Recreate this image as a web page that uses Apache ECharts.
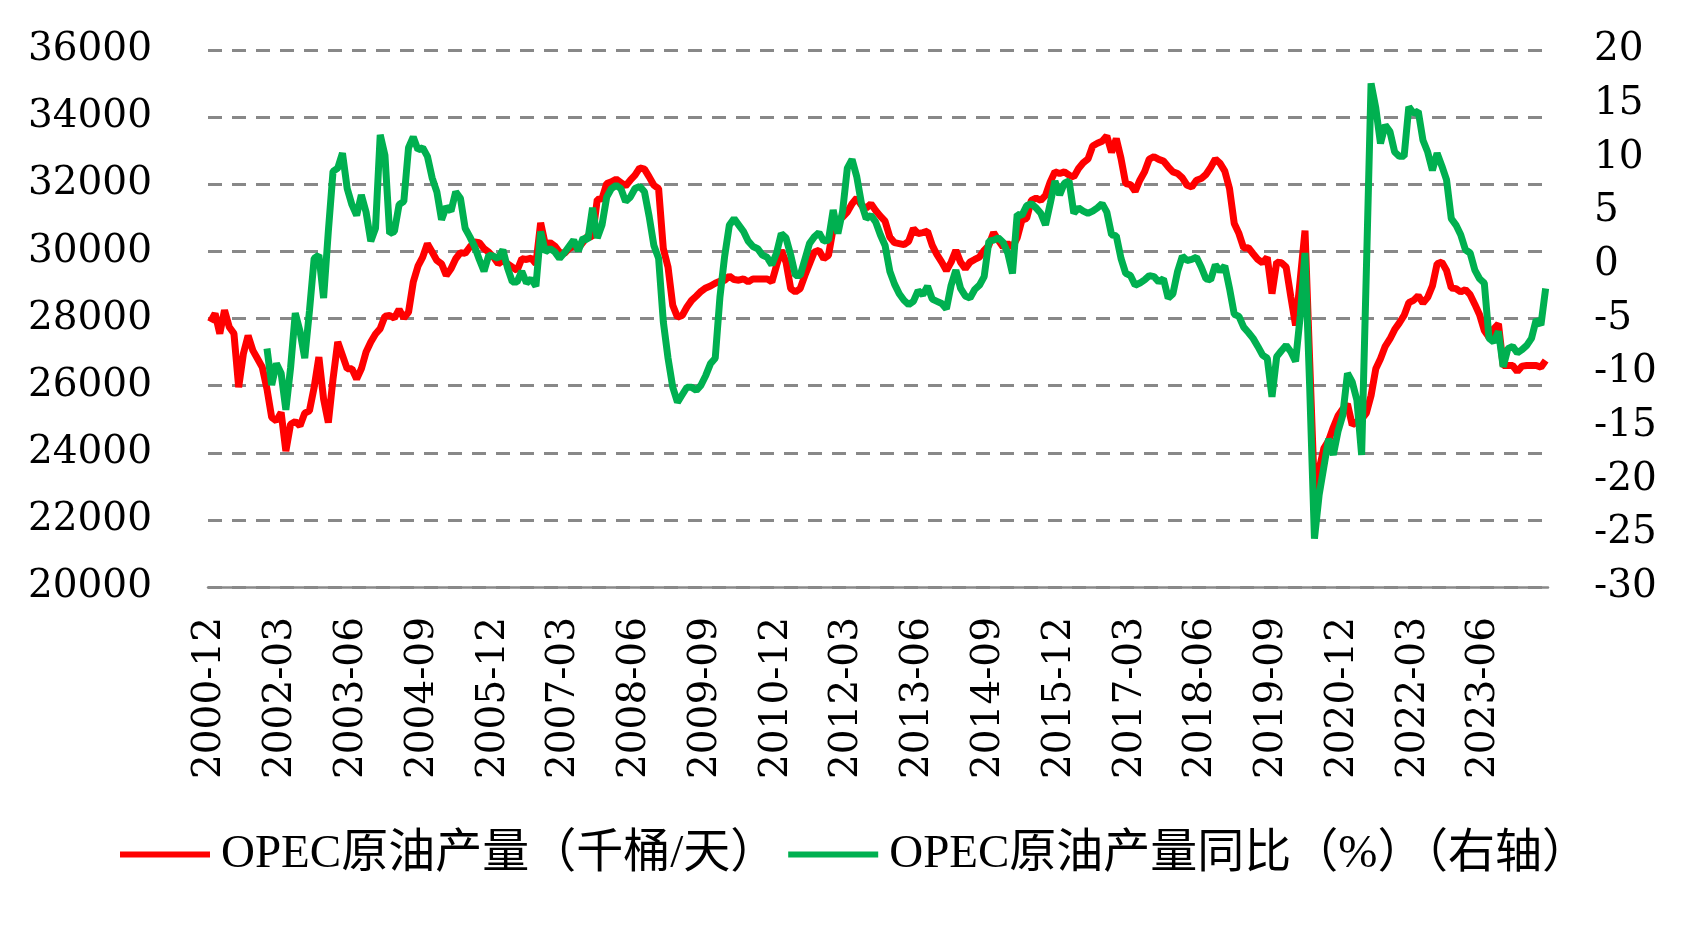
<!DOCTYPE html>
<html>
<head>
<meta charset="utf-8">
<script src="https://cdn.jsdelivr.net/npm/echarts@6/dist/echarts.min.js"></script>
<style>
html,body{margin:0;padding:0;background:#fff;}
#chart{width:1691px;height:925px;}
</style>
</head>
<body>
<div id="chart"></div>
<script>
// OPEC crude production (thousand barrels/day), monthly from 2000-12
const production = [
27900,28150,27550,28250,27750,27550,25950,26950,27490,27050,
26800,26550,25900,25050,24950,25200,24050,24850,24930,24800,
25180,25250,25950,26850,25600,24900,26200,27300,26900,26500,
26500,26200,26500,27000,27300,27540,27700,28070,28090,28010,
28270,28010,28190,29085,29560,29830,30230,29980,29730,29630,
29285,29480,29780,29960,29940,30130,30280,30260,30080,29980,
29830,29630,29730,29630,29530,29430,29780,29760,29800,29630,
30850,30200,30260,30160,29980,29930,30080,30160,30100,30280,
30460,30430,31550,31570,32020,32070,32150,32050,31950,32120,
32270,32490,32450,32220,31970,31870,30080,29530,28390,28040,
28090,28340,28540,28670,28810,28910,28970,29050,29110,29140,
29260,29160,29140,29180,29090,29180,29180,29180,29180,29090,
29580,30030,29680,28890,28790,28890,29280,29630,29980,30030,
29780,29880,30680,30930,31020,31170,31420,31590,31370,31290,
31420,31220,31050,30900,30430,30260,30230,30200,30300,30680,
30530,30560,30600,30180,29900,29680,29430,29680,30030,29680,
29480,29680,29760,29830,30030,30180,30560,30330,30130,30230,
30130,30400,30930,30980,31520,31590,31520,31670,32070,32370,
32320,32370,32270,32220,32470,32640,32750,33140,33220,33280,
33440,32950,33360,32770,32020,31990,31790,32120,32370,32750,
32820,32740,32690,32520,32370,32320,32190,31970,31920,32120,
32170,32290,32500,32750,32620,32390,31870,30830,30530,30100,
30110,29930,29760,29660,29820,28740,29680,29660,29530,28640,
27790,29180,30620,26700,22820,23510,24130,24360,24760,25100,
25300,25450,24830,24930,25000,25180,25700,26500,26800,27170,
27390,27670,27870,28090,28470,28540,28680,28460,28630,28970,
29630,29680,29430,28910,28890,28790,28860,28710,28420,28110,
27640,27440,27690,27840,26600,26600,26600,26420,26580,26600,
26600,26600,26550,26750
];

// Year-on-year change (%), right axis
const yoy = [
null,null,null,null,null,null,null,null,null,null,null,null,
-7.8,-11.2,-9.2,-10.1,-13.5,-9.6,-4.5,-6.2,
-8.7,-4.3,0.6,0.9,-3.1,3.1,8.7,9.0,10.4,7.1,
5.6,4.6,6.5,4.9,2.2,3.4,12.1,10.2,2.9,3.1,
5.6,5.9,10.9,11.9,10.7,10.9,10.1,8.1,6.8,4.2,
5.4,5.0,6.8,6.2,3.4,2.6,1.7,0.5,-0.6,0.9,
0.8,0.6,1.4,-0.3,-1.6,-1.6,-0.6,-1.7,-1.3,-2.0,
3.1,1.2,1.5,1.2,0.6,1.1,1.7,2.3,1.3,2.5,
2.3,5.3,2.5,3.7,6.3,7.1,7.4,7.1,5.9,6.3,
7.1,7.3,6.8,4.5,1.8,0.6,-5.3,-8.7,-11.4,-12.8,
-12.1,-11.4,-11.4,-11.7,-11.2,-10.3,-9.2,-8.7,-3.0,0.8,
3.7,4.3,3.7,3.1,2.2,1.7,1.5,0.9,0.7,0.0,
1.1,2.9,2.5,0.9,-1.0,-1.0,0.5,2.0,2.6,3.0,
2.2,2.3,5.1,2.9,5.0,9.0,9.8,8.2,5.7,4.3,
4.6,4.0,2.8,1.8,-0.6,-1.8,-2.7,-3.3,-3.7,-3.4,
-2.4,-2.8,-2.0,-3.2,-3.4,-3.6,-4.1,-1.9,-0.5,-2.2,
-2.9,-3.1,-2.3,-1.9,-1.1,2.2,2.3,2.5,2.1,1.1,
-0.8,4.7,4.6,5.5,5.7,5.3,4.8,3.7,5.7,7.8,
6.5,7.6,7.8,4.8,5.3,5.0,4.8,5.0,5.3,5.7,
4.9,2.8,2.7,0.6,-0.8,-1.0,-1.9,-1.7,-1.4,-1.0,
-1.1,-1.6,-1.3,-3.1,-2.7,-0.6,0.8,0.4,0.5,0.7,
-0.2,-1.3,-1.4,0.0,-0.6,-0.1,-2.2,-4.6,-4.8,-5.8,
-6.3,-6.85,-7.6,-8.4,-8.7,-12.3,-8.55,-8.0,-7.5,-8.1,
-9.0,-4.7,1.1,-11.5,-25.5,-21.4,-18.8,-16.2,-17.7,-15.5,
-14.0,-10.1,-10.9,-12.6,-17.7,-0.6,16.9,14.6,11.3,13.0,
12.4,10.5,10.1,10.1,14.7,14.1,14.3,11.6,10.5,8.8,
10.4,9.2,7.9,4.3,3.7,2.8,1.4,1.1,-0.5,-1.3,
-1.7,-6.85,-7.2,-6.2,-9.5,-7.8,-7.6,-8.2,-7.9,-7.5,
-6.85,-5.1,-5.6,-2.2
];

const seriesNames = ['OPEC原油产量（千桶/天）', 'OPEC原油产量同比（%）（右轴）'];
const leftTicks = {min: 20000, max: 36000, step: 2000};
const rightTicks = {min: -30, max: 20, step: 5};

// month categories starting 2000-12
const startYear = 2000, startMonth = 12;
const months = production.map((_, k) => {
  const t = startYear * 12 + (startMonth - 1) + k;
  const y = Math.floor(t / 12), m = t % 12 + 1;
  return y + '-' + (m < 10 ? '0' + m : '' + m);
});

const numFont = "'DejaVu Serif', 'Liberation Serif', serif";
const legendFont = "'Liberation Serif', 'Noto Sans CJK SC', serif";
const chart = echarts.init(document.getElementById('chart'), null, {renderer: 'canvas'});
chart.setOption({
  animation: false,
  backgroundColor: '#ffffff',
  grid: {left: 208, right: 143, top: 50, bottom: 338},
  legend: {
    left: 115, top: 826,
    icon: 'rect', itemWidth: 90, itemHeight: 6, itemGap: 11,
    textStyle: {fontSize: 47, fontFamily: legendFont, color: '#000', padding: [0, 0, 0, 6]},
    data: seriesNames
  },
  xAxis: {
    type: 'category', data: months, boundaryGap: true,
    axisLine: {onZero: false, lineStyle: {color: '#898989', width: 2.5}},
    axisTick: {interval: 14, length: 12, lineStyle: {color: '#898989', width: 2.5}},
    axisLabel: {interval: 14, rotate: 90, margin: 30, fontSize: 39, fontFamily: numFont, color: '#000'}
  },
  yAxis: [{
    type: 'value', min: leftTicks.min, max: leftTicks.max, interval: leftTicks.step,
    axisLine: {show: false}, axisTick: {show: false},
    splitLine: {lineStyle: {type: [14, 10], color: '#888888', width: 3}},
    axisLabel: {margin: 56, fontSize: 39, fontFamily: numFont, color: '#000', formatter: v => String(v)}
  }, {
    type: 'value', position: 'right', min: rightTicks.min, max: rightTicks.max, interval: rightTicks.step,
    axisLine: {show: false}, axisTick: {show: false}, splitLine: {show: false},
    axisLabel: {margin: 46, fontSize: 39, fontFamily: numFont, color: '#000', align: 'left', formatter: v => String(v)}
  }],
  series: [{
    name: seriesNames[0], type: 'line', data: production, yAxisIndex: 0,
    symbol: 'none', lineStyle: {color: '#FF0000', width: 7}, itemStyle: {color: '#FF0000'}
  }, {
    name: seriesNames[1], type: 'line', data: yoy, yAxisIndex: 1,
    symbol: 'none', lineStyle: {color: '#00B050', width: 7}, itemStyle: {color: '#00B050'}
  }]
});
</script>
</body>
</html>
